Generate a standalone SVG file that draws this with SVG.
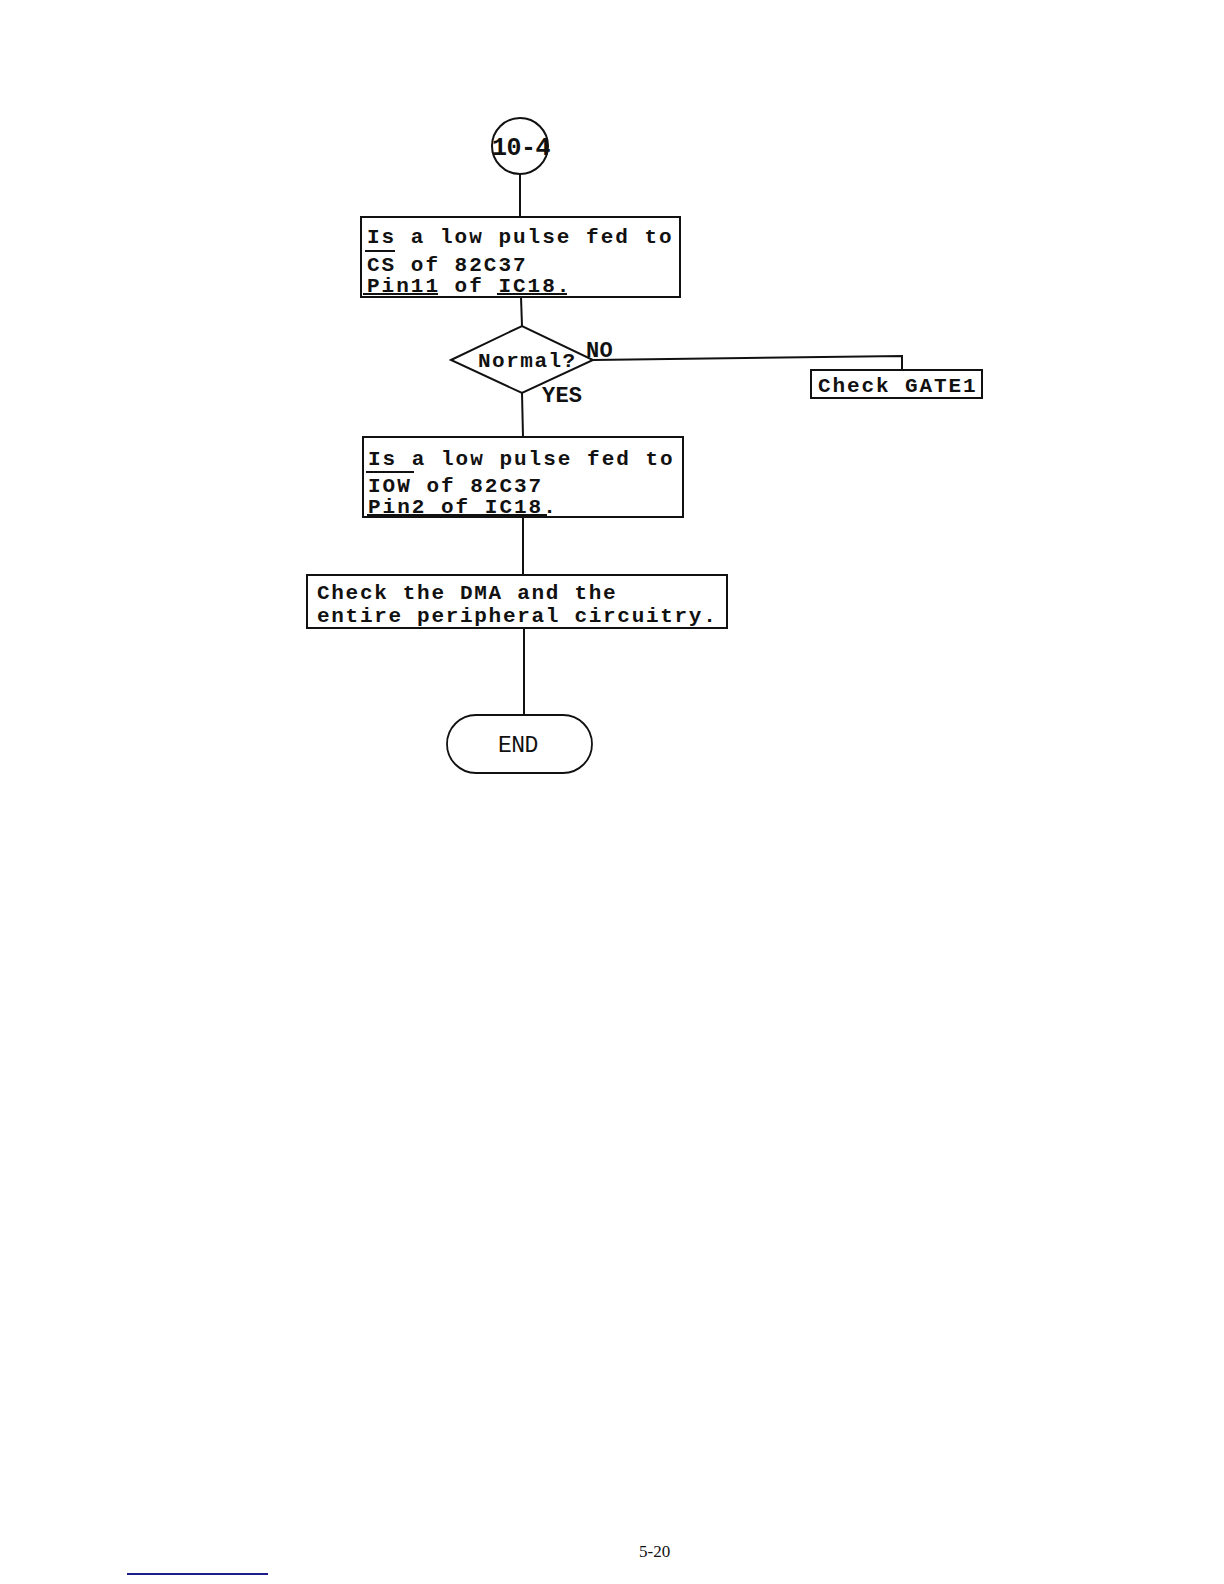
<svg xmlns="http://www.w3.org/2000/svg" width="1224" height="1584" viewBox="0 0 1224 1584">
<style>
.shape{fill:#fff;stroke:#111;stroke-width:2}
.conn{fill:none;stroke:#111;stroke-width:2}
.t{font-family:"Liberation Mono","Courier New",monospace;font-weight:bold;font-size:21px;letter-spacing:2px;fill:#111}
.lbl{font-family:"Liberation Mono","Courier New",monospace;font-weight:bold;font-size:22px;letter-spacing:0.2px;fill:#111}
.bar{stroke:#111;stroke-width:2}
</style>
<rect width="1224" height="1584" fill="#fff"/>
<g id="connectors">
<line class="conn" x1="520" y1="174" x2="520" y2="217"/>
<line class="conn" x1="521" y1="297" x2="522" y2="326"/>
<line class="conn" x1="522" y1="393" x2="523" y2="437"/>
<line class="conn" x1="523" y1="517" x2="523" y2="575"/>
<line class="conn" x1="524" y1="628" x2="524" y2="715"/>
<polyline class="conn" points="593,360 902,356 902,370"/>
<text class="lbl" x="586" y="357">NO</text>
<text class="lbl" x="542" y="402">YES</text>
</g>
<g id="start">
<circle class="shape" cx="520" cy="146" r="28"/>
<text class="t" x="492" y="155" style="font-size:25px;letter-spacing:-0.5px">10-4</text>
</g>
<g id="box1">
<rect class="shape" x="361" y="217" width="319" height="80"/>
<text class="t" x="367" y="243">Is a low pulse fed to</text>
<line class="bar" x1="365" y1="251" x2="395" y2="251"/>
<text class="t" x="367" y="271">CS of 82C37</text>
<text class="t" x="367" y="292">Pin11 of IC18.</text>
<line class="bar" x1="363" y1="294" x2="438" y2="294"/>
<line class="bar" x1="497" y1="294" x2="567" y2="294"/>
</g>
<g id="decision">
<polygon class="shape" points="451,360 522,326 593,360 522,393"/>
<text class="t" x="478" y="367" style="letter-spacing:1.5px">Normal?</text>
</g>
<g id="gate1">
<rect class="shape" x="811" y="370" width="171" height="28"/>
<text class="t" x="818" y="392" style="letter-spacing:1.9px">Check GATE1</text>
</g>
<g id="box2">
<rect class="shape" x="363" y="437" width="320" height="80"/>
<text class="t" x="368" y="465">Is a low pulse fed to</text>
<line class="bar" x1="366" y1="472" x2="414" y2="472"/>
<text class="t" x="368" y="492">IOW of 82C37</text>
<text class="t" x="368" y="513">Pin2 of IC18.</text>
<line class="bar" x1="367" y1="515" x2="547" y2="515"/>
</g>
<g id="box3">
<rect class="shape" x="307" y="575" width="420" height="53"/>
<text class="t" x="317" y="599" style="letter-spacing:1.7px">Check the DMA and the</text>
<text class="t" x="317" y="622" style="letter-spacing:1.7px">entire peripheral circuitry.</text>
</g>
<g id="end">
<rect class="shape" x="447" y="715" width="145" height="58" rx="29" ry="29" style="stroke-width:1.8"/>
<text x="498" y="752" style="font-family:'Liberation Mono','Courier New',monospace;font-size:23px;letter-spacing:-0.5px;fill:#111">END</text>
</g>
<text x="639" y="1557" style="font-family:'Liberation Serif','Times New Roman',serif;font-size:17px;fill:#111">5-20</text>
<line x1="127" y1="1574" x2="268" y2="1574" style="stroke:#1c1c8a;stroke-width:2"/>
</svg>
